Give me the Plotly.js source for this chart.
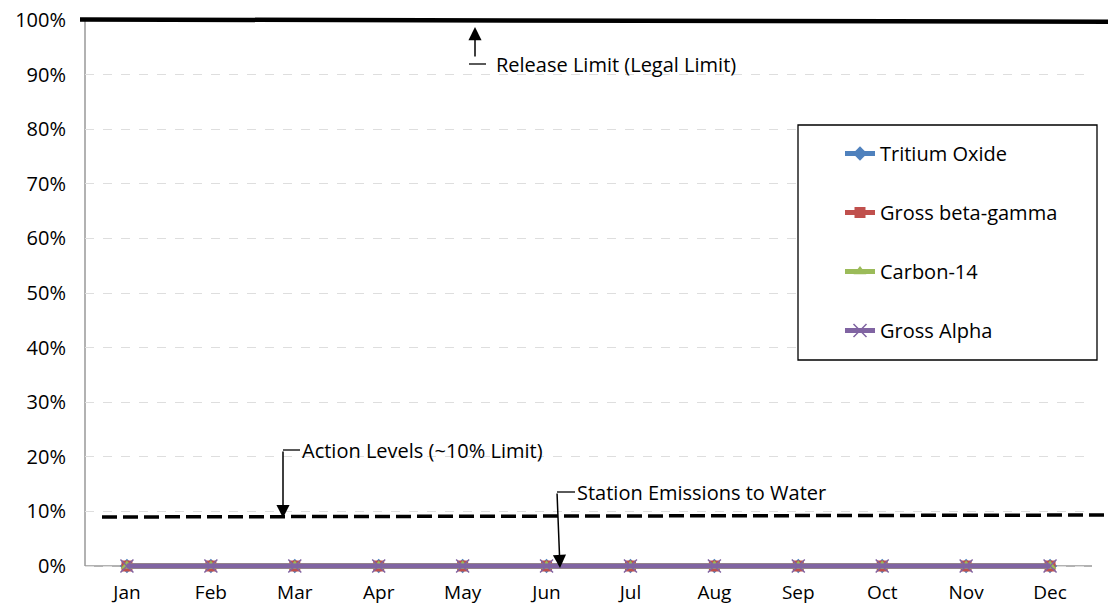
<!DOCTYPE html>
<html><head><meta charset="utf-8">
<script src="https://cdn.plot.ly/plotly-3.0.1.min.js"></script>
<style>html,body{margin:0;padding:0;background:#fff}#chart{width:1108px;height:604px}</style>
</head><body><div id="chart"></div>
<script>
const months = ['Jan','Feb','Mar','Apr','May','Jun','Jul','Aug','Sep','Oct','Nov','Dec'];
const seriesNames = ['Tritium Oxide','Gross beta-gamma','Carbon-14','Gross Alpha'];
const tritiumOxide = [0,0,0,0,0,0,0,0,0,0,0,0];
const grossBetaGamma = [0,0,0,0,0,0,0,0,0,0,0,0];
const carbon14 = [0,0,0,0,0,0,0,0,0,0,0,0];
const grossAlpha = [0,0,0,0,0,0,0,0,0,0,0,0];
const annotationTexts = ['Release Limit (Legal Limit)','Action Levels (~10% Limit)','Station Emissions to Water'];

const colors = ['#4F81BD','#C0504D','#9BBB59','#8064A2'];
const symbols = ['diamond','square','triangle-up','x-thin-open'];
const values = [tritiumOxide, grossBetaGamma, carbon14, grossAlpha];

const traces = values.map((v,i)=>({
  x: months, y: v, name: seriesNames[i], type:'scatter', mode:'lines+markers',
  legendgroup: 'g'+i,
  line:{color:colors[i], width:5},
  marker:{symbol:symbols[i], size: i===3?13:11, color:colors[i], line:{color:colors[i], width: i===3?1.5:0}},
  cliponaxis:false
}));

// pixel geometry: y=0 at 566, y=1 at 20; plot bottom extended slightly so the zero line is not clipped
const W=1108, L=85, R=1092, T=20, Y0=566, BP=573;
const yMin = -(BP-Y0)/(Y0-T);
const px = x => (x-L)/(R-L);
const py = y => (BP-y)/(BP-T);
const FONT = '"Open Sans", "Liberation Sans", sans-serif';

const layout = {
  width:W, height:604,
  margin:{l:L, r:W-R, t:T, b:604-BP},
  paper_bgcolor:'#fff', plot_bgcolor:'#fff',
  font:{family:FONT, size:19, color:'#000'},
  showlegend:true,
  legend:{x:px(840), y:py(134), xanchor:'left', yanchor:'top', bgcolor:'rgba(0,0,0,0)',
          borderwidth:0, tracegroupgap:30, font:{size:20}},
  xaxis:{type:'category', showgrid:false, showline:false,
         ticks:'', tickfont:{size:19}, ticklabelstandoff:6, zeroline:false, range:[-0.5,11.5]},
  yaxis:{range:[yMin,1], tickvals:[0,0.1,0.2,0.3,0.4,0.5,0.6,0.7,0.8,0.9,1], tickformat:'.0%', showgrid:true, gridcolor:'#dedede',
         griddash:'dash', gridwidth:1, showline:false,
         ticks:'', tickfont:{size:20}, ticklabelstandoff:18, zeroline:false},
  shapes:[
    {type:'line', xref:'paper', yref:'y', x0:0, x1:0, y0:0, y1:1, line:{color:'#999', width:1.5}, layer:'below'},
    {type:'line', xref:'paper', yref:'y', x0:0, x1:1, y0:0, y1:0, line:{color:'#999', width:1.5}, layer:'below'},
    {type:'rect', xref:'paper', yref:'paper', x0:px(798), x1:px(1097), y0:py(125), y1:py(360),
     line:{color:'#000', width:1.3}, fillcolor:'#fff', layer:'above'},
    {type:'line', xref:'paper', yref:'paper', x0:px(80), x1:px(1108), y0:py(19.5), y1:py(21.7),
     line:{color:'#000', width:4.5}},
    {type:'line', xref:'paper', yref:'paper', x0:px(102), x1:px(1108), y0:py(517), y1:py(515),
     line:{color:'#000', width:3.5, dash:'15px,6px'}},
    {type:'line', xref:'paper', yref:'paper', x0:px(469), x1:px(486), y0:py(64), y1:py(64), line:{color:'#000', width:1.3}},
    {type:'line', xref:'paper', yref:'paper', x0:px(283), x1:px(300), y0:py(450), y1:py(450), line:{color:'#000', width:1.3}},
    {type:'line', xref:'paper', yref:'paper', x0:px(557), x1:px(575), y0:py(492), y1:py(492), line:{color:'#000', width:1.3}}
  ],
  annotations:[
    {text:annotationTexts[0], xref:'paper', yref:'paper', x:px(494), y:py(64), xanchor:'left', yanchor:'middle', showarrow:false, font:{size:20}},
    {text:annotationTexts[1], xref:'paper', yref:'paper', x:px(300), y:py(450), xanchor:'left', yanchor:'middle', showarrow:false, font:{size:20}},
    {text:annotationTexts[2], xref:'paper', yref:'paper', x:px(575), y:py(492), xanchor:'left', yanchor:'middle', showarrow:false, font:{size:20}},
    {text:'', xref:'paper', yref:'paper', x:px(475), y:py(27), ax:0, ay:31, showarrow:true, arrowhead:2, arrowsize:1.75, arrowwidth:1.5, arrowcolor:'#000', standoff:0, startstandoff:0},
    {text:'', xref:'paper', yref:'paper', x:px(283), y:py(518), ax:0, ay:-68, showarrow:true, arrowhead:2, arrowsize:1.75, arrowwidth:1.5, arrowcolor:'#000', standoff:0, startstandoff:0},
    {text:'', xref:'paper', yref:'paper', x:px(560), y:py(568), ax:-3, ay:-76, showarrow:true, arrowhead:2, arrowsize:1.75, arrowwidth:1.5, arrowcolor:'#000', standoff:0, startstandoff:0}
  ]
};
Plotly.newPlot('chart', traces, layout, {displayModeBar:false, staticPlot:true});
</script></body></html>
